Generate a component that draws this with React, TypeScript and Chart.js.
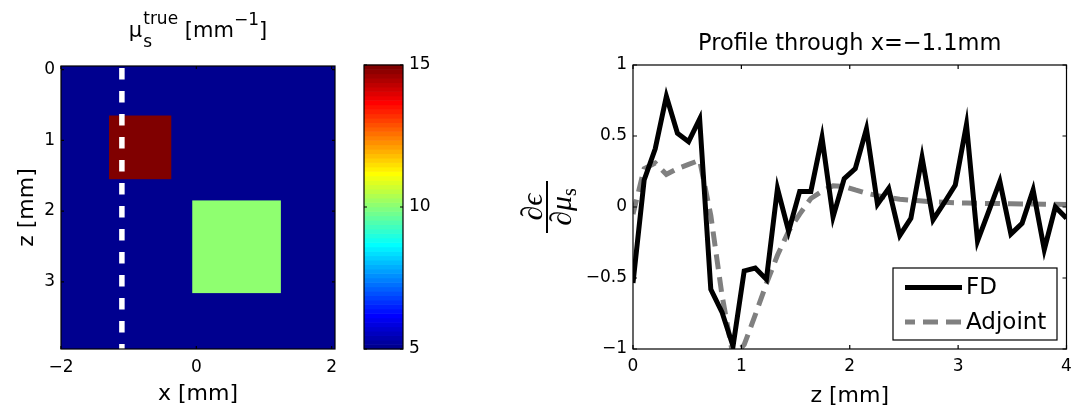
import React, { useEffect, useRef } from "react";
import { Chart, registerables } from "chart.js";

Chart.register(...registerables);

// ---------------- data ----------------
// left panel: true scattering coefficient map (mm^-1)
const muBackground = 5;
const inclusionXStart = [-1.29, -0.06];
const inclusionXEnd = [-0.37, 1.25];
const inclusionZStart = [0.65, 1.85];
const inclusionZEnd = [1.55, 3.16];
const inclusionMu = [15, 10];
const profileX = -1.1;
const profileLineZ = [-0.05, 3.95];
const colorLimits = [5, 15];
const heatXTicks = [-2, 0, 2];
const heatZTicks = [0, 1, 2, 3];
const colorbarTicks = [5, 10, 15];

// right panel: profile through x = -1.1 mm
const zPositions = [
  0.0, 0.103, 0.205, 0.308, 0.41, 0.513, 0.615, 0.718, 0.821, 0.923,
  1.026, 1.128, 1.231, 1.333, 1.436, 1.538, 1.641, 1.744, 1.846, 1.949,
  2.051, 2.154, 2.256, 2.359, 2.462, 2.564, 2.667, 2.769, 2.872, 2.974,
  3.077, 3.179, 3.282, 3.385, 3.487, 3.59, 3.692, 3.795, 3.897, 4.0,
];
const fdValues = [
  -0.535, 0.19, 0.41, 0.78, 0.52, 0.46, 0.62, -0.58, -0.74, -0.98,
  -0.45, -0.43, -0.51, 0.13, -0.17, 0.11, 0.11, 0.49, -0.07, 0.2,
  0.27, 0.55, 0.02, 0.13, -0.2, -0.08, 0.35, -0.09, 0.03, 0.155,
  0.58, -0.24, -0.03, 0.18, -0.19, -0.115, 0.12, -0.3, 0.0, -0.08,
];
const adjointValues = [
  -0.05, 0.27, 0.31, 0.23, 0.27, 0.3, 0.33, -0.06, -0.62, -1.05,
  -0.97, -0.76, -0.54, -0.34, -0.17, -0.05, 0.06, 0.11, 0.15, 0.145,
  0.12, 0.097, 0.08, 0.067, 0.055, 0.048, 0.042, 0.036, 0.033, 0.03,
  0.028, 0.026, 0.025, 0.024, 0.023, 0.022, 0.021, 0.02, 0.019, 0.018,
];
const profileZTicks = [0, 1, 2, 3, 4];
const profileYTicks = [-1, -0.5, 0, 0.5, 1];

// ---------------- styling helpers ----------------
const SANS = '"DejaVu Sans", "Liberation Sans", sans-serif';
const SERIF = '"Liberation Serif", "DejaVu Serif", serif';
const TICK_FONT = `17px ${SANS}`;
const LABEL_FONT = `22px ${SANS}`;

// MATLAB jet(64)
function jetColor(i0: number): string {
  const u = (k: number) =>
    k < 1 || k > 47 ? 0 : k <= 16 ? k / 16 : k <= 31 ? 1 : (48 - k) / 16;
  const i = i0 + 1;
  const r = u(i - 24), g = u(i - 8), b = u(i + 8);
  return `rgb(${Math.round(r * 255)},${Math.round(g * 255)},${Math.round(b * 255)})`;
}
function muToColor(mu: number): string {
  const [lo, hi] = colorLimits;
  let idx = Math.floor(((mu - lo) / (hi - lo)) * 64);
  idx = Math.max(0, Math.min(63, idx));
  return jetColor(idx);
}
const fmt = (v: number) => String(v).replace("-", "\u2212");

function drawFrame(ctx: CanvasRenderingContext2D, a: any, xs: any, ys: any,
  xTicks: number[], yTicks: number[], len: number) {
  ctx.save();
  ctx.strokeStyle = "#000";
  ctx.lineWidth = 1.2;
  ctx.beginPath();
  for (const t of xTicks) {
    const px = xs.getPixelForValue(t);
    ctx.moveTo(px, a.bottom); ctx.lineTo(px, a.bottom - len);
    ctx.moveTo(px, a.top); ctx.lineTo(px, a.top + len);
  }
  for (const t of yTicks) {
    const py = ys.getPixelForValue(t);
    ctx.moveTo(a.left, py); ctx.lineTo(a.left + len, py);
    ctx.moveTo(a.right, py); ctx.lineTo(a.right - len, py);
  }
  ctx.stroke();
  ctx.strokeRect(a.left, a.top, a.right - a.left, a.bottom - a.top);
  ctx.restore();
}

// ---------------- left heatmap ----------------
const heatmapPlugin = {
  id: "heatmapCells",
  beforeDatasetsDraw(chart: any) {
    const { ctx } = chart;
    const xs = chart.scales.x, ys = chart.scales.y;
    const rect = (x0: number, x1: number, z0: number, z1: number, c: string) => {
      const px0 = xs.getPixelForValue(x0), px1 = xs.getPixelForValue(x1);
      const py0 = ys.getPixelForValue(z0), py1 = ys.getPixelForValue(z1);
      ctx.fillStyle = c;
      ctx.fillRect(Math.min(px0, px1), Math.min(py0, py1), Math.abs(px1 - px0), Math.abs(py1 - py0));
    };
    ctx.save();
    rect(xs.min, xs.max, ys.min, ys.max, muToColor(muBackground));
    for (let i = 0; i < inclusionMu.length; i++) {
      rect(inclusionXStart[i], inclusionXEnd[i], inclusionZStart[i], inclusionZEnd[i], muToColor(inclusionMu[i]));
    }
    ctx.restore();
  },
  afterDatasetsDraw(chart: any) {
    const { ctx, chartArea: a } = chart;
    const xs = chart.scales.x, ys = chart.scales.y;
    drawFrame(ctx, a, xs, ys, heatXTicks, heatZTicks, 3);
    ctx.save();
    ctx.fillStyle = "#000";
    ctx.font = TICK_FONT;
    ctx.textAlign = "center"; ctx.textBaseline = "middle";
    for (const t of heatXTicks) ctx.fillText(fmt(t), xs.getPixelForValue(t), a.bottom + 19);
    ctx.textAlign = "right";
    for (const t of heatZTicks) ctx.fillText(fmt(t), a.left - 6, ys.getPixelForValue(t));
    // x label
    ctx.font = LABEL_FONT; ctx.textAlign = "center"; ctx.textBaseline = "alphabetic";
    const cx = (a.left + a.right) / 2;
    ctx.fillText("x [mm]", cx, a.bottom + 51);
    // z label (rotated)
    ctx.save();
    ctx.translate(a.left - 28, (a.top + a.bottom) / 2);
    ctx.rotate(-Math.PI / 2);
    ctx.fillText("z [mm]", 0, 0);
    ctx.restore();
    // title  mu_s^true [mm^-1]
    const base = a.top - 29;
    ctx.textAlign = "left";
    ctx.font = `21px ${SANS}`;
    const wMu = ctx.measureText("\u03bc").width;
    const wOpen = ctx.measureText(" [mm").width;
    const wClose = ctx.measureText("]").width;
    ctx.font = `17px ${SANS}`;
    const wTrue = ctx.measureText("true").width;
    const wS = ctx.measureText("s").width;
    const wM1 = ctx.measureText("\u22121").width;
    const total = wMu + 1 + Math.max(wTrue, wS) + wOpen + wM1 + wClose;
    let x = cx - total / 2;
    ctx.font = `21px ${SANS}`;
    ctx.fillText("\u03bc", x, base);
    x += wMu + 1;
    ctx.font = `17px ${SANS}`;
    ctx.fillText("true", x, base - 13);
    ctx.fillText("s", x, base + 10);
    x += Math.max(wTrue, wS);
    ctx.font = `21px ${SANS}`;
    ctx.fillText(" [mm", x, base);
    x += wOpen;
    ctx.font = `17px ${SANS}`;
    ctx.fillText("\u22121", x, base - 12);
    x += wM1;
    ctx.font = `21px ${SANS}`;
    ctx.fillText("]", x, base);
    ctx.restore();
  },
};

function HeatmapChart() {
  const ref = useRef<HTMLCanvasElement>(null);
  useEffect(() => {
    const W = 345, H = 409;
    const chart = new Chart(ref.current as HTMLCanvasElement, {
      type: "scatter",
      data: {
        datasets: [
          {
            data: profileLineZ.map((z) => ({ x: profileX, y: z })),
            showLine: true,
            borderColor: "#ffffff",
            borderWidth: 5.5,
            borderDash: [11.5, 11.5],
            borderDashOffset: 21,
            borderCapStyle: "butt",
            pointRadius: 0,
          } as any,
        ],
      },
      options: {
        responsive: false,
        animation: false,
        events: [],
        layout: { padding: { left: 61, top: 66, right: W - 335, bottom: H - 349 } },
        scales: {
          x: { type: "linear", min: -2, max: 2.05, display: false },
          y: { type: "linear", min: -0.05, max: 3.95, reverse: true, display: false },
        },
        plugins: { legend: { display: false }, tooltip: { enabled: false } },
      },
      plugins: [heatmapPlugin],
    });
    return () => chart.destroy();
  }, []);
  return <canvas ref={ref} width={345} height={409} style={{ position: "absolute", left: 0, top: 0 }} />;
}

// ---------------- colorbar ----------------
const colorbarPlugin = {
  id: "colorbarBands",
  beforeDatasetsDraw(chart: any) {
    const { ctx, chartArea: a } = chart;
    const ys = chart.scales.y;
    const [lo, hi] = colorLimits;
    ctx.save();
    for (let i = 0; i < 64; i++) {
      const v0 = lo + ((hi - lo) * i) / 64;
      const v1 = lo + ((hi - lo) * (i + 1)) / 64;
      const p0 = ys.getPixelForValue(v0), p1 = ys.getPixelForValue(v1);
      ctx.fillStyle = jetColor(i);
      ctx.fillRect(a.left, Math.min(p0, p1) - 0.3, a.right - a.left, Math.abs(p1 - p0) + 0.6);
    }
    ctx.restore();
  },
  afterDatasetsDraw(chart: any) {
    const { ctx, chartArea: a } = chart;
    const xs = chart.scales.x, ys = chart.scales.y;
    drawFrame(ctx, a, xs, ys, [], colorbarTicks, 3);
    ctx.save();
    ctx.fillStyle = "#000";
    ctx.font = TICK_FONT;
    ctx.textAlign = "left"; ctx.textBaseline = "middle";
    for (const t of colorbarTicks) ctx.fillText(fmt(t), a.right + 6, ys.getPixelForValue(t));
    ctx.restore();
  },
};

function ColorbarChart() {
  const ref = useRef<HTMLCanvasElement>(null);
  useEffect(() => {
    const W = 130, H = 409, L = 340;
    const chart = new Chart(ref.current as HTMLCanvasElement, {
      type: "scatter",
      data: { datasets: [] },
      options: {
        responsive: false,
        animation: false,
        events: [],
        layout: { padding: { left: 364 - L, top: 65, right: W - (403 - L), bottom: H - 349 } },
        scales: {
          x: { type: "linear", min: 0, max: 1, display: false },
          y: { type: "linear", min: colorLimits[0], max: colorLimits[1], display: false },
        },
        plugins: { legend: { display: false }, tooltip: { enabled: false } },
      },
      plugins: [colorbarPlugin],
    });
    return () => chart.destroy();
  }, []);
  return <canvas ref={ref} width={130} height={409} style={{ position: "absolute", left: 340, top: 0 }} />;
}

// ---------------- profile plot ----------------
const FD_COLOR = "#000000";
const ADJ_COLOR = "#808080";
const LINE_W = 5;
const ADJ_DASH = [15, 8];

const profilePlugin = {
  id: "profileDecor",
  afterDatasetsDraw(chart: any) {
    const { ctx, chartArea: a } = chart;
    const xs = chart.scales.x, ys = chart.scales.y;
    drawFrame(ctx, a, xs, ys, profileZTicks, profileYTicks, 4);
    ctx.save();
    ctx.fillStyle = "#000";
    ctx.font = TICK_FONT;
    ctx.textAlign = "center"; ctx.textBaseline = "middle";
    for (const t of profileZTicks) ctx.fillText(fmt(t), xs.getPixelForValue(t), a.bottom + 17.5);
    ctx.textAlign = "right";
    for (const t of profileYTicks) ctx.fillText(fmt(t), a.left - 6, ys.getPixelForValue(t));
    const cx = (a.left + a.right) / 2;
    ctx.textAlign = "center"; ctx.textBaseline = "alphabetic";
    ctx.font = LABEL_FONT;
    ctx.fillText("z [mm]", cx, a.bottom + 52.5);
    ctx.font = `22.5px ${SANS}`;
    ctx.fillText("Profile through x=\u22121.1mm", cx, a.top - 15);

    // y label: fraction d(eps)/d(mu_s), rotated
    ctx.save();
    ctx.translate(a.left - 86, (a.top + a.bottom) / 2);
    ctx.rotate(-Math.PI / 2);
    ctx.fillRect(-26, -1, 52, 2);
    ctx.font = `italic 30px ${SERIF}`;
    ctx.textAlign = "center";
    ctx.fillText("\u2202\u03f5", 0, -5);
    ctx.textAlign = "left";
    const wDen = ctx.measureText("\u2202\u03bc").width;
    ctx.font = `20px ${SERIF}`;
    const wSub = ctx.measureText("s").width;
    const start = -(wDen + wSub) / 2;
    ctx.font = `italic 30px ${SERIF}`;
    ctx.fillText("\u2202\u03bc", start, 24);
    ctx.font = `20px ${SERIF}`;
    ctx.fillText("s", start + wDen, 29);
    ctx.restore();

    // legend
    const lx0 = a.right - 173.5, lx1 = a.right - 9.5, ly0 = a.bottom - 81, ly1 = a.bottom - 9;
    ctx.fillStyle = "#fff";
    ctx.fillRect(lx0, ly0, lx1 - lx0, ly1 - ly0);
    ctx.strokeStyle = "#000"; ctx.lineWidth = 1.2;
    ctx.strokeRect(lx0, ly0, lx1 - lx0, ly1 - ly0);
    const entries = [
      { label: "FD", color: FD_COLOR, dash: [] as number[], y: ly0 + 19.5 },
      { label: "Adjoint", color: ADJ_COLOR, dash: ADJ_DASH, y: ly0 + 54 },
    ];
    ctx.font = `23px ${SANS}`;
    ctx.textBaseline = "middle"; ctx.textAlign = "left";
    for (const e of entries) {
      ctx.save();
      ctx.strokeStyle = e.color; ctx.lineWidth = LINE_W; ctx.lineCap = "butt";
      ctx.setLineDash(e.dash); ctx.lineDashOffset = 5;
      ctx.beginPath(); ctx.moveTo(lx0 + 12, e.y); ctx.lineTo(lx0 + 69, e.y); ctx.stroke();
      ctx.restore();
      ctx.fillStyle = "#000";
      ctx.fillText(e.label, lx0 + 73, e.y + 1);
    }
    ctx.restore();
  },
};

function ProfileChart() {
  const ref = useRef<HTMLCanvasElement>(null);
  useEffect(() => {
    const W = 593, H = 409, L = 480;
    const chart = new Chart(ref.current as HTMLCanvasElement, {
      type: "scatter",
      data: {
        datasets: [
          {
            label: "FD",
            data: zPositions.map((z, i) => ({ x: z, y: fdValues[i] })),
            showLine: true,
            borderColor: FD_COLOR,
            borderWidth: LINE_W,
            pointRadius: 0,
          } as any,
          {
            label: "Adjoint",
            data: zPositions.map((z, i) => ({ x: z, y: adjointValues[i] })),
            showLine: true,
            borderColor: ADJ_COLOR,
            borderWidth: LINE_W,
            borderDash: ADJ_DASH,
            borderCapStyle: "butt",
            pointRadius: 0,
          } as any,
        ],
      },
      options: {
        responsive: false,
        animation: false,
        events: [],
        layout: { padding: { left: 633 - L, top: 65, right: W - (1066.5 - L), bottom: H - 349 } },
        scales: {
          x: { type: "linear", min: 0, max: 4, display: false },
          y: { type: "linear", min: -1, max: 1, display: false },
        },
        plugins: { legend: { display: false }, tooltip: { enabled: false } },
      },
      plugins: [profilePlugin],
    });
    return () => chart.destroy();
  }, []);
  return <canvas ref={ref} width={593} height={409} style={{ position: "absolute", left: 480, top: 0 }} />;
}

export default function App() {
  return (
    <div style={{ position: "absolute", left: 0, top: 0, width: 1073, height: 409, background: "#fff", overflow: "hidden" }}>
      <HeatmapChart />
      <ColorbarChart />
      <ProfileChart />
    </div>
  );
}
